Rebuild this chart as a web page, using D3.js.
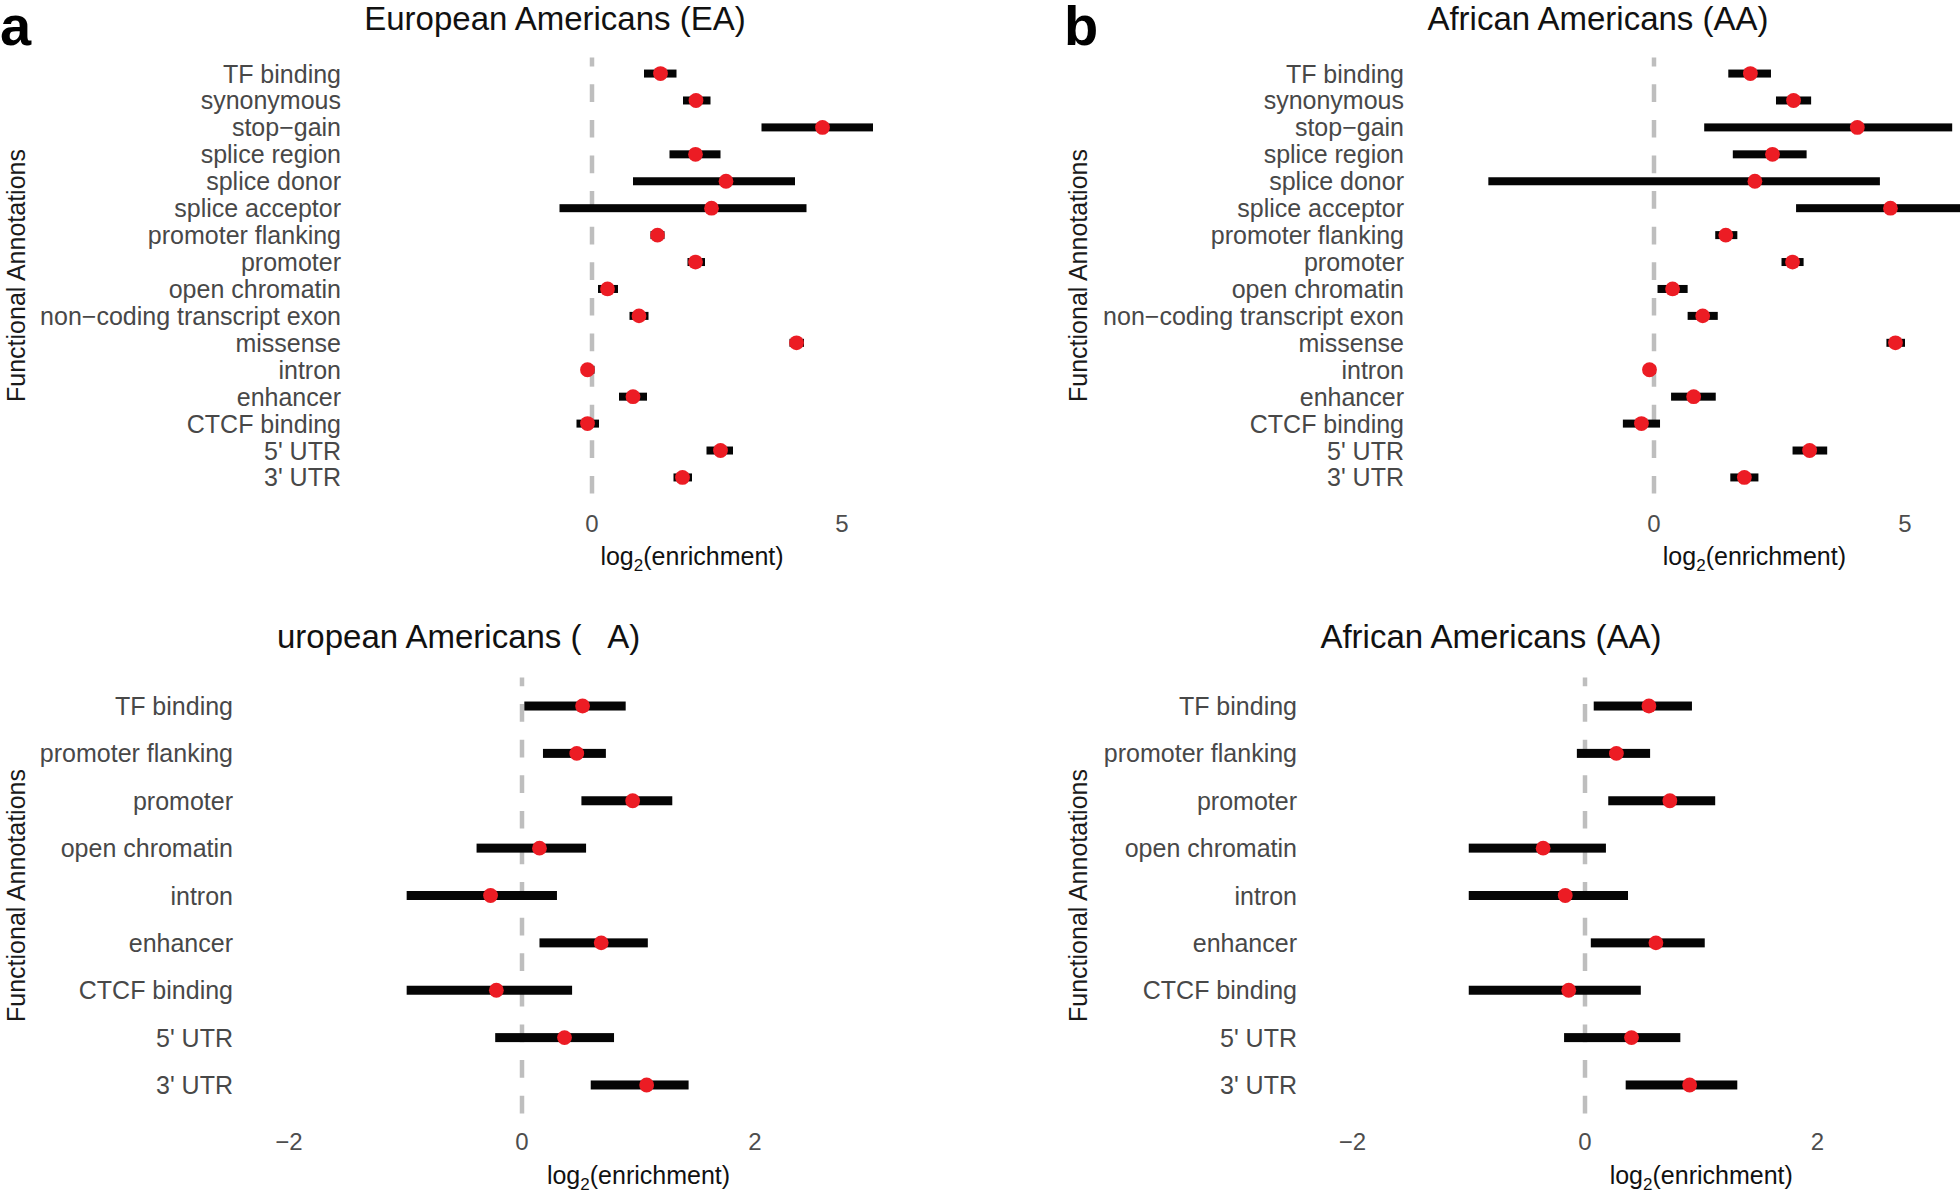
<!DOCTYPE html>
<html>
<head>
<meta charset="utf-8">
<script src="https://cdn.jsdelivr.net/npm/d3@7"></script>
<style>
    body { margin: 0; background: #fff; }
    svg { display: block; }
    text { font-family: "Liberation Sans", Arial, Helvetica, sans-serif; }
</style>
</head>
<body>
<svg id="chart" width="1960" height="1193"></svg>
<script>
// ---- data ----
const topCategories = [
    "TF binding", "synonymous", "stop\u2212gain", "splice region", "splice donor",
    "splice acceptor", "promoter flanking", "promoter", "open chromatin",
    "non\u2212coding transcript exon", "missense", "intron", "enhancer",
    "CTCF binding", "5' UTR", "3' UTR",
];
const bottomCategories = [
    "TF binding", "promoter flanking", "promoter", "open chromatin", "intron",
    "enhancer", "CTCF binding", "5' UTR", "3' UTR",
];

// panel a: European Americans, all annotations
const eaTopEst = [1.37, 2.08, 4.61, 2.07, 2.68, 2.39, 1.31, 2.07, 0.31, 0.94, 4.09, -0.09, 0.82, -0.09, 2.57, 1.81];
const eaTopLow = [1.04, 1.82, 3.39, 1.55, 0.82, -0.65, 1.17, 1.91, 0.12, 0.75, 3.95, -0.2, 0.54, -0.31, 2.29, 1.63];
const eaTopHigh = [1.69, 2.37, 5.62, 2.57, 4.06, 4.29, 1.45, 2.26, 0.52, 1.13, 4.24, 0.05, 1.1, 0.14, 2.82, 2.0];

// panel b: African Americans, all annotations
const aaTopEst = [1.92, 2.78, 4.05, 2.36, 2.01, 4.71, 1.43, 2.76, 0.37, 0.97, 4.81, -0.09, 0.79, -0.25, 3.1, 1.8];
const aaTopLow = [1.48, 2.43, 1.0, 1.57, -3.3, 2.83, 1.22, 2.54, 0.07, 0.67, 4.63, -0.21, 0.34, -0.62, 2.76, 1.52];
const aaTopHigh = [2.33, 3.13, 5.94, 3.04, 4.5, 6.6, 1.66, 2.98, 0.67, 1.27, 5.0, 0.04, 1.23, 0.12, 3.45, 2.08];

// panel c: European Americans, regulatory annotations
const eaBottomEst = [0.52, 0.47, 0.95, 0.15, -0.27, 0.68, -0.22, 0.365, 1.07];
const eaBottomLow = [0.02, 0.18, 0.51, -0.39, -0.99, 0.15, -0.99, -0.23, 0.59];
const eaBottomHigh = [0.89, 0.72, 1.29, 0.55, 0.3, 1.08, 0.43, 0.79, 1.43];

// panel d: African Americans, regulatory annotations
const aaBottomEst = [0.55, 0.27, 0.73, -0.36, -0.17, 0.61, -0.14, 0.4, 0.9];
const aaBottomLow = [0.075, -0.07, 0.2, -1.0, -1.0, 0.05, -1.0, -0.18, 0.35];
const aaBottomHigh = [0.92, 0.56, 1.12, 0.18, 0.37, 1.03, 0.48, 0.82, 1.31];

const topTicks = [0, 5];
const bottomTicks = [-2, 0, 2];

var svg = d3.select("#chart");

/**
 * @name drawPanel
 * @description Draws one forest panel (labels, dashed zero line, CI bars, points).
 * @param {Object} p panel layout + data
 */
function drawPanel(p) {
    let rows = p.categories.map(function (c, i) {
        return { name: c, est: p.est[i], low: p.low[i], high: p.high[i] };
    });

    let x = d3.scaleLinear().domain(p.xDomain).range(p.xRange);
    let y = d3.scalePoint().domain(p.categories).range(p.yRange).padding(0.6);

    let g = svg.append("g").attr("class", "panel");

    // title
    g.append("text")
        .attr("x", p.titleX)
        .attr("y", p.titleY)
        .attr("text-anchor", p.titleAnchor || "middle")
        .style("font-size", "33px")
        .style("fill", "#111")
        .style("white-space", "pre")
        .text(p.title);

    // y axis title
    g.append("text")
        .attr("transform", `translate(${p.yTitleX},${(p.yRange[0] + p.yRange[1]) / 2}) rotate(-90)`)
        .attr("text-anchor", "middle")
        .attr("dy", "0.36em")
        .style("font-size", "25px")
        .style("fill", "#1a1a1a")
        .text("Functional Annotations");

    // category labels
    g.selectAll("text.cat")
        .data(rows)
        .enter()
        .append("text")
        .attr("class", "cat")
        .attr("x", p.labelX)
        .attr("y", (d) => y(d.name))
        .attr("dy", "0.36em")
        .attr("text-anchor", "end")
        .style("font-size", "25px")
        .style("fill", "#484848")
        .text((d) => d.name);

    // dashed zero line, drawn bottom to top like the original
    g.append("line")
        .attr("x1", x(0))
        .attr("x2", x(0))
        .attr("y1", p.yRange[1])
        .attr("y2", p.yRange[0])
        .style("stroke", "#bebebe")
        .style("stroke-width", 4.5)
        .style("stroke-dasharray", "17.7,17.9");

    // confidence interval bars
    g.selectAll("rect.ci")
        .data(rows)
        .enter()
        .append("rect")
        .attr("class", "ci")
        .attr("x", (d) => x(d.low))
        .attr("width", (d) => x(d.high) - x(d.low))
        .attr("y", (d) => y(d.name) - p.barH / 2)
        .attr("height", p.barH)
        .style("fill", "#050505");

    // point estimates
    g.selectAll("circle.est")
        .data(rows)
        .enter()
        .append("circle")
        .attr("class", "est")
        .attr("cx", (d) => x(d.est))
        .attr("cy", (d) => y(d.name))
        .attr("r", 7.4)
        .style("fill", "#ec1c24");

    // x tick labels (no tick marks in the original)
    g.selectAll("text.tick")
        .data(p.ticks)
        .enter()
        .append("text")
        .attr("class", "tick")
        .attr("x", (d) => x(d))
        .attr("y", p.tickY)
        .attr("text-anchor", "middle")
        .style("font-size", "24px")
        .style("fill", "#4d4d4d")
        .text((d) => (d < 0 ? "\u2212" + Math.abs(d) : d));

    // x axis title with subscript
    let xt = g.append("text")
        .attr("x", x((p.xDomain[0] + p.xDomain[1]) / 2))
        .attr("y", p.xTitleY)
        .attr("text-anchor", "middle")
        .style("font-size", "25px")
        .style("fill", "#111");
    xt.append("tspan").text("log");
    xt.append("tspan").attr("dy", 6).style("font-size", "17px").text("2");
    xt.append("tspan").attr("dy", -6).text("(enrichment)");
}

drawPanel({
    title: "European Americans (EA)", titleX: 555, titleY: 30,
    categories: topCategories, est: eaTopEst, low: eaTopLow, high: eaTopHigh,
    xDomain: [-1, 5], xRange: [542, 842], yRange: [57.4, 493.6],
    labelX: 341, yTitleX: 16, barH: 8, ticks: topTicks, tickY: 531.5, xTitleY: 565,
});

drawPanel({
    title: "African Americans (AA)", titleX: 1598, titleY: 30,
    categories: topCategories, est: aaTopEst, low: aaTopLow, high: aaTopHigh,
    xDomain: [-1, 5], xRange: [1603.8, 1905], yRange: [57.4, 493.6],
    labelX: 1404, yTitleX: 1078, barH: 8, ticks: topTicks, tickY: 531.5, xTitleY: 565,
});

drawPanel({
    title: "uropean Americans (   A)", titleX: 277, titleY: 648, titleAnchor: "start",
    categories: bottomCategories, est: eaBottomEst, low: eaBottomLow, high: eaBottomHigh,
    xDomain: [-1, 3], xRange: [405.5, 871.5], yRange: [677.6, 1113.4],
    labelX: 233, yTitleX: 16, barH: 9, ticks: bottomTicks, tickY: 1150, xTitleY: 1184,
});

drawPanel({
    title: "African Americans (AA)", titleX: 1491, titleY: 648,
    categories: bottomCategories, est: aaBottomEst, low: aaBottomLow, high: aaBottomHigh,
    xDomain: [-1, 3], xRange: [1468.75, 1933.75], yRange: [677.6, 1113.4],
    labelX: 1297, yTitleX: 1078, barH: 9, ticks: bottomTicks, tickY: 1150, xTitleY: 1184,
});

// panel letters
svg.append("text").attr("x", 0).attr("y", 45)
    .style("font-size", "56px").style("font-weight", "bold").text("a");
svg.append("text").attr("x", 1064).attr("y", 45)
    .style("font-size", "56px").style("font-weight", "bold").text("b");
</script>
</body>
</html>
